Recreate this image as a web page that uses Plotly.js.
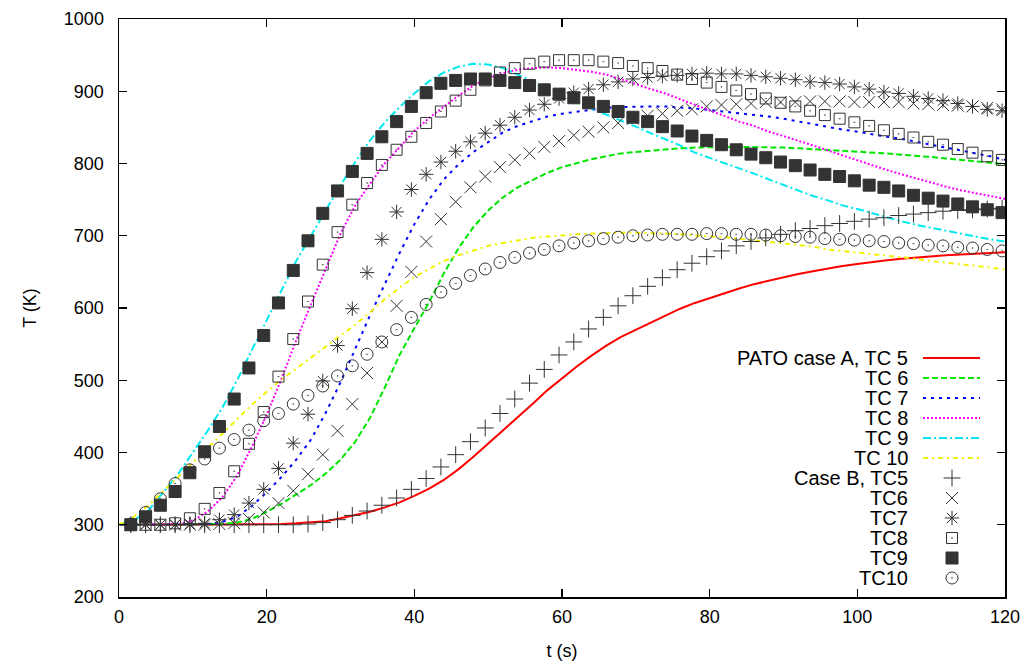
<!DOCTYPE html>
<html>
<head>
<meta charset="utf-8">
<script src="https://cdn.plot.ly/plotly-3.0.1.min.js"></script>
<style>
html,body{margin:0;padding:0;background:#fff;}
#chart{width:1029px;height:664px;}
</style>
</head>
<body>
<div id="chart"></div>
<script>
// ---- time axes ----
const tA = [0,2,4,6,8,10,12,14,16,18,20,22,24,26,28,30,32,34,36,38,40,42,44,46,48,50,52,54,56,58,60,62,64,66,68,70,72,74,76,78,80,82,84,86,88,90,92,94,96,98,100,102,104,106,108,110,112,114,116,118,120];
const tB = [1.6,3.6,5.6,7.6,9.6,11.6,13.6,15.6,17.6,19.6,21.6,23.6,25.6,27.6,29.6,31.6,33.6,35.6,37.6,39.6,41.6,43.6,45.6,47.6,49.6,51.6,53.6,55.6,57.6,59.6,61.6,63.6,65.6,67.6,69.6,71.6,73.6,75.6,77.6,79.6,81.6,83.6,85.6,87.6,89.6,91.6,93.6,95.6,97.6,99.6,101.6,103.6,105.6,107.6,109.6,111.6,113.6,115.6,117.6,119.6];

// ---- PATO case A (lines), values at tA ----
const A_TC5 = [300,300,300,300,300,300,300,300,300,300,300,301,302,303,305,309,313,318,324,331,340,350,362,377,394,412,430,449,467,486,503,519,534,548,560,570,580,590,599,607,614,620,627,633,638,643,647,651,655,658,661,664,666,668,670,672,673,674,675,676,677];
const A_TC6 = [300,300,300,300,300,300,300,301,303,308,318,329,342,355,371,390,415,448,490,535,572,608,648,683,712,735,753,767,777,787,795,801,806,810,814,816,818,820,821,822,823,823,823,823,822,822,821,820,819,818,817,815,814,812,811,809,807,805,803,801,799];
const A_TC7 = [300,300,300,300,300,300,301,304,311,326,345,366,390,418,455,497,543,590,633,676,716,750,778,799,816,830,843,852,859,865,869,872,875,877,878,879,879,879,878,876,874,872,870,867,865,862,858,854,851,847,844,840,837,834,830,826,822,819,815,810,805];
const A_TC8 = [300,300,300,300,301,306,318,338,368,408,452,502,555,605,655,703,742,772,800,823,845,863,879,894,908,918,925,930,932,933,932,930,927,923,917,910,903,897,889,881,874,866,858,852,844,838,832,825,818,811,804,797,791,785,779,773,768,763,759,755,751];
const A_TC9 = [300,306,320,345,370,400,430,462,500,542,583,625,665,700,735,770,802,832,857,878,897,914,926,934,938,937,932,923,914,903,893,884,876,868,860,851,842,834,825,815,808,800,793,786,778,770,762,755,749,742,737,731,726,720,715,711,706,702,698,695,692];
const A_TC10 = [300,311,327,346,366,386,406,426,446,466,484,501,516,531,546,561,577,594,612,628,643,654,665,673,680,686,690,694,697,699,701,702,703,704,704,704,704,703,702,700,699,698,696,694,692,690,688,685,681,679,677,674,672,670,668,665,663,660,658,656,653];

// ---- Case B (markers), values at tB ----
const B_TC5 = [300,300,300,300,300,300,300,300,300,300,300,300,301,303,307,313,319,327,337,349,364,380,397,415,434,454,474,496,515,535,553,571,587,603,617,630,642,653,662,671,679,686,692,697,702,707,710,714,717,720,723,725,728,730,732,734,735,736,737,738];
const B_TC6 = [300,300,300,300,300,300,301,302,308,317,330,347,370,397,430,467,510,553,603,650,692,723,747,767,782,795,805,814,823,831,839,844,850,856,862,866,869,873,875,879,881,882,883,885,885,885,886,886,886,885,885,885,885,883,882,881,880,879,877,875];
const B_TC7 = [300,300,300,300,301,302,307,314,330,349,378,413,453,499,548,599,649,695,733,764,785,802,817,830,842,853,864,874,882,890,898,903,909,913,917,919,921,922,924,925,924,924,922,920,918,916,913,912,910,906,903,899,897,893,890,887,883,879,875,873];
const B_TC8 = [300,300,300,302,309,322,344,374,412,456,505,557,609,660,705,743,773,798,819,837,856,872,887,902,915,926,932,938,941,943,943,943,941,939,935,932,928,923,917,912,906,901,896,890,884,879,873,867,862,857,852,846,841,836,830,826,820,815,810,805];
const B_TC9 = [300,311,327,346,372,401,436,474,517,562,607,652,693,731,762,789,814,837,858,879,898,911,915,917,917,915,912,908,902,896,891,884,879,872,864,858,851,845,838,832,826,819,813,808,802,797,791,785,782,776,770,767,762,756,752,748,744,740,736,732];
const B_TC10 = [301,317,336,357,376,391,406,418,431,444,454,467,479,492,506,520,536,553,570,587,605,622,634,645,654,663,670,676,681,686,690,693,696,698,700,701,702,702,702,703,703,702,702,701,700,699,698,696,695,694,693,692,690,689,687,686,684,683,681,679];

const legendLabels = ["PATO case A, TC 5","TC 6","TC 7","TC 8","TC 9","TC 10","Case B, TC5","TC6","TC7","TC8","TC9","TC10"];
const xTicks = [0,20,40,60,80,100,120];
const yTicks = [200,300,400,500,600,700,800,900,1000];

// ---- styles ----
const lineStyles = [
  {color:'#ff0000', dash:'solid'},
  {color:'#00e600', dash:'6px,3px'},
  {color:'#0000ff', dash:'3px,5px'},
  {color:'#ff00ff', dash:'2px,2px'},
  {color:'#00e8f0', dash:'8px,3px,2px,3px'},
  {color:'#f2f200', dash:'5px,4px,2px,4px'}
];
const markStyles = [
  {symbol:'cross-thin-open', size:12, color:'#333333'},
  {symbol:'x-thin-open', size:12, color:'#333333'},
  {symbol:'asterisk-open', size:12, color:'#333333'},
  {symbol:'square-open-dot', size:11, color:'#333333'},
  {symbol:'square', size:12, color:'#333333'},
  {symbol:'circle-open-dot', size:12, color:'#333333'}
];

const Aseries = [A_TC5,A_TC6,A_TC7,A_TC8,A_TC9,A_TC10];
const Bseries = [B_TC5,B_TC6,B_TC7,B_TC8,B_TC9,B_TC10];

const traces = [];
Aseries.forEach((ys,i)=>{
  traces.push({x:tA, y:ys, type:'scatter', mode:'lines', name:legendLabels[i], showlegend:false,
    line:{color:lineStyles[i].color, dash:lineStyles[i].dash, width:2}});
});
Bseries.forEach((ys,i)=>{
  const m = markStyles[i];
  traces.push({x:tB, y:ys, type:'scatter', mode:'markers', name:legendLabels[6+i], showlegend:false,
    marker:{symbol:m.symbol, size:m.size, color:m.color, line:{color:m.color, width:1}}});
});

// ---- custom gnuplot-style key (text right, sample left) ----
const plotL=119, plotR=1005, plotT=19, plotB=597;
const keyTextRight = 910, keyLine0 = 923, keyLine1 = 980, keyMark = 952, keyRow0 = 358, keyStep = 20;
const px2x = p => (p-plotL)/(plotR-plotL);
const py2y = p => (plotB-p)/(plotB-plotT);
const FAM = 'Liberation Sans, Arial, Helvetica, sans-serif';

const annotations = [];
const shapes = [];
legendLabels.forEach((lab,i)=>{
  const yy = py2y(keyRow0 + keyStep*i);
  annotations.push({xref:'paper', yref:'paper', x:px2x(keyTextRight), y:yy, xanchor:'right', yanchor:'middle',
    text:lab, showarrow:false, font:{family:FAM, size:20, color:'#000'}});
  if (i < 6) {
    shapes.push({type:'line', xref:'paper', yref:'paper', x0:px2x(keyLine0), x1:px2x(keyLine1), y0:yy, y1:yy,
      line:{color:lineStyles[i].color, dash:lineStyles[i].dash, width:2}});
  } else {
    const m = markStyles[i-6];
    traces.push({x:[px2x(keyMark)], y:[yy], xaxis:'x2', yaxis:'y2', type:'scatter', mode:'markers',
      showlegend:false, hoverinfo:'skip',
      marker:{symbol:m.symbol, size:m.size, color:m.color, line:{color:m.color, width:1}}});
  }
});

const font = {family:FAM, size:18, color:'#000'};
const layout = {
  width:1029, height:664,
  margin:{l:plotL, r:1029-plotR, t:plotT, b:664-plotB},
  paper_bgcolor:'#fff', plot_bgcolor:'#fff',
  font:font,
  showlegend:false,
  xaxis:{range:[0,120], tickvals:xTicks, ticks:'inside', ticklen:8, tickwidth:1.2, tickcolor:'#000',
    showline:true, linecolor:'#000', linewidth:1.5, mirror:'ticks', showgrid:false, zeroline:false,
    tickfont:font, ticklabelstandoff:3, title:{text:'t (s)', font:font, standoff:18}, automargin:false},
  yaxis:{range:[200,1000], tickvals:yTicks, ticks:'inside', ticklen:8, tickwidth:1.2, tickcolor:'#000',
    showline:true, linecolor:'#000', linewidth:1.5, mirror:'ticks', showgrid:false, zeroline:false,
    tickfont:font, ticklabelstandoff:10, title:{text:'T (K)', font:font, standoff:22}, automargin:false},
  xaxis2:{overlaying:'x', range:[0,1], visible:false, fixedrange:true},
  yaxis2:{overlaying:'y', range:[0,1], visible:false, fixedrange:true},
  annotations:annotations,
  shapes:shapes
};

Plotly.newPlot('chart', traces, layout, {displayModeBar:false, staticPlot:true});
</script>
</body>
</html>
